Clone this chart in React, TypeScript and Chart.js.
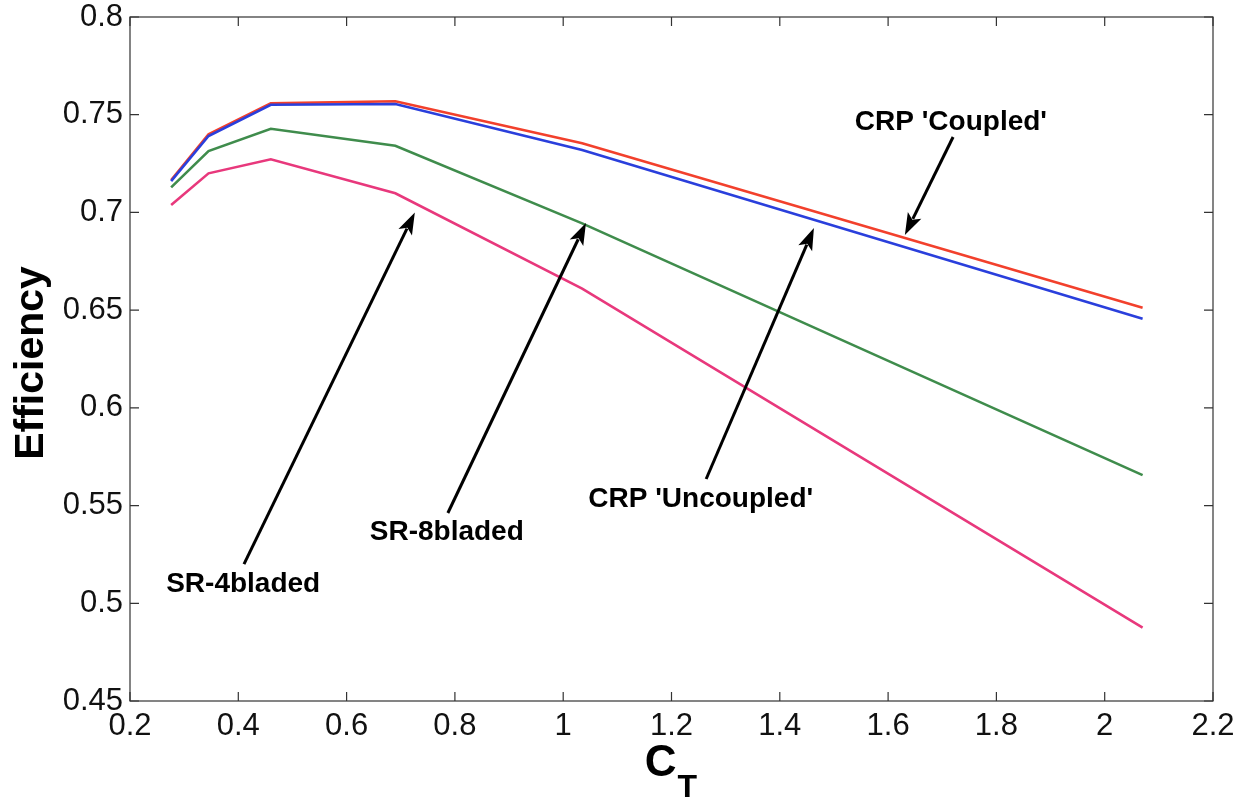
import React, { useEffect, useRef } from 'react';
import { Chart, registerables } from 'chart.js';

Chart.register(...registerables);

// ---- data ----
const CT = [0.276, 0.345, 0.46, 0.69, 1.035, 2.07];
const CRP_COUPLED = [0.7166, 0.74, 0.7558, 0.7569, 0.7354, 0.6512];
const CRP_UNCOUPLED = [0.716, 0.7391, 0.7551, 0.7555, 0.7319, 0.6456];
const SR_8BLADED = [0.7128, 0.7314, 0.7428, 0.7341, 0.6944, 0.5656];
const SR_4BLADED = [0.7038, 0.72, 0.7272, 0.7098, 0.661, 0.4875];

const X_TICKS = [0.2, 0.4, 0.6, 0.8, 1.0, 1.2, 1.4, 1.6, 1.8, 2.0, 2.2];
const X_TICK_LABELS = ['0.2', '0.4', '0.6', '0.8', '1', '1.2', '1.4', '1.6', '1.8', '2', '2.2'];
const Y_TICKS = [0.45, 0.5, 0.55, 0.6, 0.65, 0.7, 0.75, 0.8];
const Y_TICK_LABELS = ['0.45', '0.5', '0.55', '0.6', '0.65', '0.7', '0.75', '0.8'];

// annotation labels with arrows, in data coordinates
const ANNOTATIONS = [
  { text: "CRP 'Coupled'", tx: 1.716, ty: 0.7422, fromX: 1.72, fromY: 0.7386, toX: 1.631, toY: 0.6884 },
  { text: "CRP 'Uncoupled'", tx: 1.254, ty: 0.5492, fromX: 1.264, fromY: 0.5636, toX: 1.463, toY: 0.692 },
  { text: 'SR-8bladed', tx: 0.785, ty: 0.5323, fromX: 0.787, fromY: 0.5462, toX: 1.042, toY: 0.6946 },
  { text: 'SR-4bladed', tx: 0.409, ty: 0.5057, fromX: 0.4105, fromY: 0.52, toX: 0.726, toY: 0.7 },
];

const FONT = '"Liberation Sans", Arial, Helvetica, sans-serif';

const toXY = (ys: number[]) => CT.map((x, i) => ({ x, y: ys[i] }));

const decorPlugin = {
  id: 'decor',
  afterDraw(chart: any) {
    const { ctx, chartArea, scales } = chart;
    const xs = scales.x;
    const ys = scales.y;
    const { left, right, top, bottom } = chartArea;
    ctx.save();
    // frame
    ctx.strokeStyle = '#333';
    ctx.lineWidth = 1.2;
    ctx.strokeRect(left, top, right - left, bottom - top);
    // inward ticks
    const tl = 9;
    ctx.beginPath();
    X_TICKS.forEach((v) => {
      const px = xs.getPixelForValue(v);
      ctx.moveTo(px, bottom);
      ctx.lineTo(px, bottom - tl);
      ctx.moveTo(px, top);
      ctx.lineTo(px, top + tl);
    });
    Y_TICKS.forEach((v) => {
      const py = ys.getPixelForValue(v);
      ctx.moveTo(left, py);
      ctx.lineTo(left + tl, py);
      ctx.moveTo(right, py);
      ctx.lineTo(right - tl, py);
    });
    ctx.stroke();

    // y title
    ctx.fillStyle = '#000';
    ctx.save();
    ctx.translate(43, (top + bottom) / 2 + 4);
    ctx.rotate(-Math.PI / 2);
    ctx.font = `bold 41px ${FONT}`;
    ctx.textAlign = 'center';
    ctx.textBaseline = 'alphabetic';
    ctx.fillText('Efficiency', 0, 0);
    ctx.restore();

    // x title C_T
    const cx = (left + right) / 2;
    ctx.font = `bold 44px ${FONT}`;
    ctx.textAlign = 'left';
    ctx.textBaseline = 'alphabetic';
    const cw = ctx.measureText('C').width;
    ctx.font = `bold 32px ${FONT}`;
    const tw = ctx.measureText('T').width;
    const startX = cx - (cw + tw) / 2 - 1;
    ctx.font = `bold 44px ${FONT}`;
    ctx.fillText('C', startX, 776);
    ctx.font = `bold 32px ${FONT}`;
    ctx.fillText('T', startX + cw + 1, 797);

    // annotations
    ANNOTATIONS.forEach((a) => {
      const x0 = xs.getPixelForValue(a.fromX);
      const y0 = ys.getPixelForValue(a.fromY);
      const x1 = xs.getPixelForValue(a.toX);
      const y1 = ys.getPixelForValue(a.toY);
      const ang = Math.atan2(y1 - y0, x1 - x0);
      const hl = 22;
      const hw = 7.5;
      const bx = x1 - hl * Math.cos(ang);
      const by = y1 - hl * Math.sin(ang);
      ctx.strokeStyle = '#000';
      ctx.lineWidth = 3;
      ctx.beginPath();
      ctx.moveTo(x0, y0);
      ctx.lineTo(bx + 4 * Math.cos(ang), by + 4 * Math.sin(ang));
      ctx.stroke();
      ctx.fillStyle = '#000';
      ctx.beginPath();
      ctx.moveTo(x1, y1);
      ctx.lineTo(bx + hw * Math.sin(ang), by - hw * Math.cos(ang));
      ctx.lineTo(bx + 5 * Math.cos(ang), by + 5 * Math.sin(ang));
      ctx.lineTo(bx - hw * Math.sin(ang), by + hw * Math.cos(ang));
      ctx.closePath();
      ctx.fill();
      ctx.font = `bold 28px ${FONT}`;
      ctx.textAlign = 'center';
      ctx.textBaseline = 'alphabetic';
      ctx.fillText(a.text, xs.getPixelForValue(a.tx), ys.getPixelForValue(a.ty));
    });
    ctx.restore();
  },
};

export default function App() {
  const ref = useRef<HTMLCanvasElement | null>(null);
  useEffect(() => {
    if (!ref.current) return;
    const ds = (label: string, ys: number[], color: string) => ({
      label,
      data: toXY(ys),
      borderColor: color,
      backgroundColor: color,
      borderWidth: 2.6,
      pointRadius: 0,
      tension: 0,
      fill: false,
    });
    const chart = new Chart(ref.current, {
      type: 'line',
      data: {
        datasets: [
          ds('SR-4bladed', SR_4BLADED, '#e8387c'),
          ds('SR-8bladed', SR_8BLADED, '#3f8c4c'),
          ds("CRP 'Uncoupled'", CRP_UNCOUPLED, '#2a3fdc'),
          ds("CRP 'Coupled'", CRP_COUPLED, '#f2402c'),
        ],
      },
      options: {
        animation: false,
        responsive: false,
        maintainAspectRatio: false,
        layout: { padding: { top: 17, right: 33, left: 0, bottom: 0 } },
        plugins: { legend: { display: false }, tooltip: { enabled: false } },
        scales: {
          x: {
            type: 'linear',
            min: 0.2,
            max: 2.2,
            grid: { display: false, drawTicks: false },
            border: { display: false },
            afterBuildTicks: (s: any) => {
              s.ticks = X_TICKS.map((v) => ({ value: v }));
            },
            afterFit: (s: any) => {
              s.height = 100;
              s.paddingLeft = 0;
              s.paddingRight = 0;
            },
            ticks: {
              autoSkip: false,
              maxRotation: 0,
              padding: 7,
              color: '#111',
              font: { family: FONT, size: 31 },
              callback: (_v: any, i: number) => X_TICK_LABELS[i],
            },
          },
          y: {
            type: 'linear',
            min: 0.45,
            max: 0.8,
            grid: { display: false, drawTicks: false },
            border: { display: false },
            afterBuildTicks: (s: any) => {
              s.ticks = Y_TICKS.map((v) => ({ value: v }));
            },
            afterFit: (s: any) => {
              s.width = 130;
              s.paddingTop = 0;
              s.paddingBottom = 0;
            },
            ticks: {
              autoSkip: false,
              padding: 7,
              color: '#111',
              font: { family: FONT, size: 31 },
              callback: (_v: any, i: number) => Y_TICK_LABELS[i],
            },
          },
        },
      },
      plugins: [decorPlugin],
    });
    return () => chart.destroy();
  }, []);
  return (
    <div style={{ position: 'fixed', left: 0, top: 0, width: 1246, height: 801, background: '#fff' }}>
      <canvas ref={ref} width={1246} height={801} style={{ width: 1246, height: 801 }} />
    </div>
  );
}
